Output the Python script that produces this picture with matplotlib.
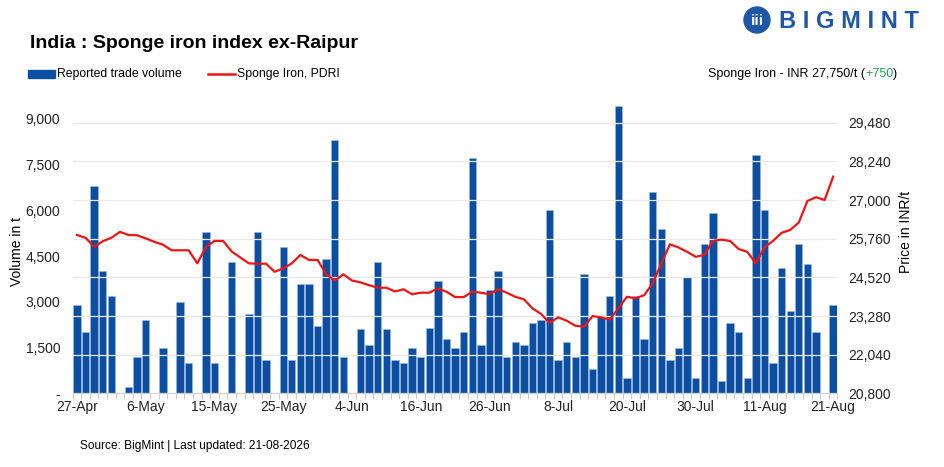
import matplotlib.pyplot as plt
from matplotlib.patches import Ellipse, Rectangle
from matplotlib.lines import Line2D

plt.rcParams['font.family'] = ['Liberation Sans', 'DejaVu Sans']

# trade volume (t) per trading day, 27-Apr .. 21-Aug
volume = [2900, 2000, 6800, 4000, 3200, 0, 200, 1200, 2400, 0,
          1500, 0, 3000, 1000, 0, 5300, 1000, 0, 4300, 0,
          2600, 5300, 1100, 0, 4800, 1100, 3600, 3600, 2200, 4400,
          8300, 1200, 0, 2100, 1600, 4300, 2100, 1100, 1000, 1500,
          1200, 2150, 3700, 1800, 1500, 2000, 7700, 1600, 3400, 4000,
          1200, 1700, 1600, 2300, 2400, 6000, 1100, 1700, 1200, 3900,
          800, 2500, 3200, 9400, 500, 3200, 1800, 6600, 5400, 1100,
          1500, 3800, 500, 4900, 5900, 400, 2300, 2000, 500, 7800,
          6000, 1000, 4100, 2700, 4900, 4250, 2000, 0, 2900]

# Sponge Iron PDRI price (INR/t)
price = [25880, 25790, 25500, 25680, 25790, 25980, 25880, 25870, 25770, 25660,
         25570, 25390, 25390, 25390, 24970, 25490, 25690, 25690, 25350, 25160,
         24970, 24960, 24960, 24700, 24810, 24970, 25240, 25080, 25080, 24620,
         24420, 24620, 24420, 24360, 24270, 24190, 24190, 24070, 24140, 23980,
         24030, 24030, 24170, 24060, 23890, 23890, 24060, 24030, 23980, 24140,
         24030, 23900, 23820, 23530, 23350, 23060, 23240, 23130, 22970, 22940,
         23280, 23240, 23170, 23530, 23900, 23850, 23950, 24330, 24970, 25580,
         25480, 25340, 25180, 25240, 25690, 25730, 25690, 25430, 25340, 24970,
         25480, 25690, 25950, 26040, 26280, 26970, 27090, 27000, 27750]

tick_labels = ['27-Apr', '6-May', '15-May', '25-May', '4-Jun', '16-Jun',
               '26-Jun', '8-Jul', '20-Jul', '30-Jul', '11-Aug', '21-Aug']

vol_ticks = [0, 1500, 3000, 4500, 6000, 7500, 9000]
price_ticks = [20800, 22040, 23280, 24520, 25760, 27000, 28240, 29480]

blue = '#0b4ea2'
red = '#f01414'

fig = plt.figure(figsize=(9.45, 4.67), dpi=100)
ax = fig.add_axes([0.0769, 0.1574, 0.8093, 0.6285])
ax2 = ax.twinx()

x = list(range(len(volume)))
ax.bar(x, volume, width=0.86, color=blue, edgecolor='#9fb8dc', linewidth=0.4, zorder=3)
ax2.plot(x, price, color=red, linewidth=1.6, zorder=4)

ax.set_zorder(ax2.get_zorder() - 1)
ax2.patch.set_visible(False)
ax.set_xlim(-0.5, len(volume) - 0.5)
ax.set_ylim(0, 9612)
ax2.set_ylim(20800, 30206)

ax.set_yticks(vol_ticks)
ax.set_yticklabels(['-'] + ['{:,}'.format(v) for v in vol_ticks[1:]])
ax2.set_yticks(price_ticks)
ax2.set_yticklabels(['{:,}'.format(v) for v in price_ticks])
ax2.grid(axis='y', color='#e8e8e8', linewidth=0.9, zorder=0)

ax.set_xticks(range(0, len(volume), 8))
ax.set_xticklabels(tick_labels)
ax.set_xticks([i - 0.5 for i in range(len(volume) + 1)], minor=True)
ax.tick_params(axis='x', which='major', length=0, labelsize=10, pad=5, colors='#222222')
ax.tick_params(axis='x', which='minor', length=4, color='#d0d0d0', width=0.8)
ax.tick_params(axis='y', length=0, labelsize=10, pad=9, colors='#222222')
ax2.tick_params(axis='y', length=0, labelsize=10, pad=8, colors='#222222')

for a in (ax, ax2):
    for s in ('top', 'left', 'right'):
        a.spines[s].set_visible(False)
ax.spines['bottom'].set_color('#d0d0d0')
ax2.spines['bottom'].set_visible(False)

ax.set_ylabel('Volume in t', fontsize=10)
ax.yaxis.set_label_coords(-0.064, 0.485)
ax2.set_ylabel('Price in INR/t', fontsize=10)
ax2.yaxis.set_label_coords(1.081, 0.55)

# title, legend and notes
fig.text(30 / 945, 1 - 44 / 467, 'India : Sponge iron index ex-Raipur', fontsize=14,
         fontweight='bold', va='center', ha='left')
fig.patches.append(Rectangle((28 / 945, 1 - 78 / 467), 27 / 945, 8 / 467,
                             transform=fig.transFigure, color=blue))
fig.text(57 / 945, 1 - 74 / 467, 'Reported trade volume', fontsize=8.8, va='center')
fig.lines.append(Line2D([208 / 945, 235 / 945], [1 - 74 / 467, 1 - 74 / 467],
                        transform=fig.transFigure, color=red, linewidth=1.8))
fig.text(237 / 945, 1 - 74 / 467, 'Sponge Iron, PDRI', fontsize=8.8, va='center')

t1 = fig.text(708 / 945, 1 - 74 / 467, 'Sponge Iron - INR 27,750/t (', fontsize=9, va='center')
fig.canvas.draw()
bb = t1.get_window_extent()
t2 = fig.text(bb.x1 / 945, 1 - 74 / 467, '+750', fontsize=9, va='center', color='#1aa64b')
bb2 = t2.get_window_extent()
fig.text(bb2.x1 / 945, 1 - 74 / 467, ')', fontsize=9, va='center')

fig.text(80 / 945, 1 - 446 / 467, 'Source: BigMint | Last updated: 21-08-2026', fontsize=8.6,
         va='center')

# logo
fig.patches.append(Ellipse((757 / 945, 1 - 20 / 467), 26 / 945, 26 / 467,
                           transform=fig.transFigure, color='#1d57a8'))
fig.text(757 / 945, 1 - 21 / 467, 'iii', fontsize=11, fontweight='bold', color='white',
         ha='center', va='center')
fig.text(779 / 945, 1 - 21 / 467, 'B I G M I N T', fontsize=17, fontweight='bold',
         color='#1d57a8', va='center')

fig.savefig('out.png', dpi=100)
